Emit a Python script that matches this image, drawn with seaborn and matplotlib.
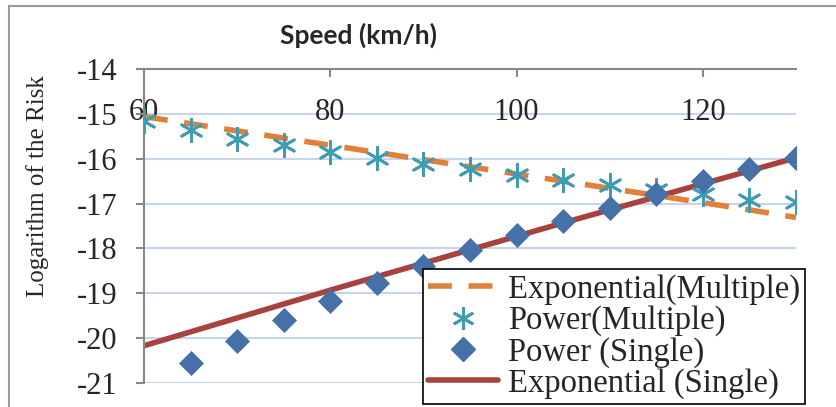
import matplotlib
matplotlib.use("Agg")
import matplotlib.pyplot as plt
import seaborn as sns
import pandas as pd
from matplotlib.patches import Rectangle
from matplotlib.lines import Line2D

# ---- data ----
speed = [60, 65, 70, 75, 80, 85, 90, 95, 100, 105, 110, 115, 120, 125, 130]
power_multiple = [-15.17, -15.36, -15.56, -15.69, -15.84, -15.98, -16.12, -16.24,
                  -16.36, -16.47, -16.58, -16.69, -16.78, -16.91, -16.96]
exp_multiple = [-15.06, -15.22, -15.38, -15.54, -15.70, -15.86, -16.02, -16.18,
                -16.34, -16.50, -16.66, -16.82, -16.98, -17.14, -17.31]
speed_single = [65, 70, 75, 80, 85, 90, 95, 100, 105, 110, 115, 120, 125, 130]
power_single = [-20.56, -20.06, -19.60, -19.18, -18.78, -18.39, -18.04, -17.71,
                -17.39, -17.10, -16.78, -16.50, -16.23, -15.98]
exp_single = [-20.17, -19.86, -19.55, -19.24, -18.93, -18.63, -18.33, -18.03,
              -17.73, -17.43, -17.14, -16.85, -16.56, -16.27, -15.98]
x_ticks = [60, 80, 100, 120]
y_ticks = [-14, -15, -16, -17, -18, -19, -20, -21]

df_m = pd.DataFrame({"speed": speed, "power": power_multiple, "exp": exp_multiple, "exps": exp_single})
df_s = pd.DataFrame({"speed": speed_single, "power": power_single})

sns.set_theme(style="white")
plt.rcParams["font.family"] = ["Liberation Serif", "DejaVu Serif"]

c_orange = "#E0803A"
c_teal = "#3E9DB3"
c_blue = "#4570A8"
c_red = "#A8423F"

fig = plt.figure(figsize=(8.36, 4.07), dpi=100)
ax = fig.add_axes([144/836, 1-383/407, (796-144)/836, (383-69)/407])

for y in y_ticks:
    ax.axhline(y, color="#C6D4EC", lw=1.5, zorder=0)

sns.lineplot(data=df_m, x="speed", y="exps", ax=ax, color=c_red, lw=4, zorder=2)
sns.lineplot(data=df_m, x="speed", y="exp", ax=ax, color=c_orange, lw=4,
             dashes=False, zorder=3).lines[-1].set_dashes([4.3, 3.0])
sns.scatterplot(data=df_m, x="speed", y="power", ax=ax, marker=(6, 2, 0), s=260,
                color=c_teal, linewidth=2, zorder=4)
sns.scatterplot(data=df_s, x="speed", y="power", ax=ax, marker="D", s=150,
                color=c_blue, edgecolor=c_blue, linewidth=0.5, zorder=5)

ax.set_xlim(60, 130)
ax.set_ylim(-21, -14)
ax.set_xticks(x_ticks)
ax.set_yticks(y_ticks)
ax.set_yticklabels([str(v) for v in y_ticks])
ax.set_xlabel("")
ax.set_ylabel("Logarithm of the Risk", fontsize=18)
ax.yaxis.set_label_coords(-0.145, (383-186)/314)

for s in ["right", "bottom"]:
    ax.spines[s].set_visible(False)
for s in ["top", "left"]:
    ax.spines[s].set_color("#888888")
    ax.spines[s].set_linewidth(1.5)

ax.tick_params(axis="x", top=True, bottom=False, labeltop=True, labelbottom=False,
               direction="in", length=6, width=1.5, color="#888888", pad=-42, labelsize=22)
ax.tick_params(axis="y", left=True, direction="out", length=6, width=1.5,
               color="#888888", pad=13, labelsize=22)

fig.text(358/836, 1-35/407, "Speed (km/h)", fontsize=19, fontweight="bold",
         family=["Lato", "DejaVu Sans"], ha="center", va="center")

handles = [
    Line2D([], [], color=c_orange, lw=4, dashes=[4.3, 3.0]),
    Line2D([], [], color=c_teal, marker=(6, 2, 0), ls="none", markersize=16, mew=2),
    Line2D([], [], color=c_blue, marker="D", ls="none", markersize=12),
    Line2D([], [], color=c_red, lw=4),
]
labels = ["Exponential(Multiple)", "Power(Multiple)", "Power (Single)", "Exponential (Single)"]
leg = ax.legend(handles, labels, loc="lower left", bbox_to_anchor=((423-144)/652, (383-404)/314),
                fontsize=23.5, frameon=True, fancybox=False, framealpha=1, edgecolor="black",
                borderpad=0.15, labelspacing=0.02, handlelength=2.15, handletextpad=0.3,
                borderaxespad=0)
leg.get_frame().set_linewidth(1.2)

fig.patches.append(Rectangle((9/836, -0.5), 2, 1.5 - 6/407, transform=fig.transFigure,
                             fill=False, edgecolor="#999999", lw=1.5))

fig.savefig("out.png", dpi=100)
